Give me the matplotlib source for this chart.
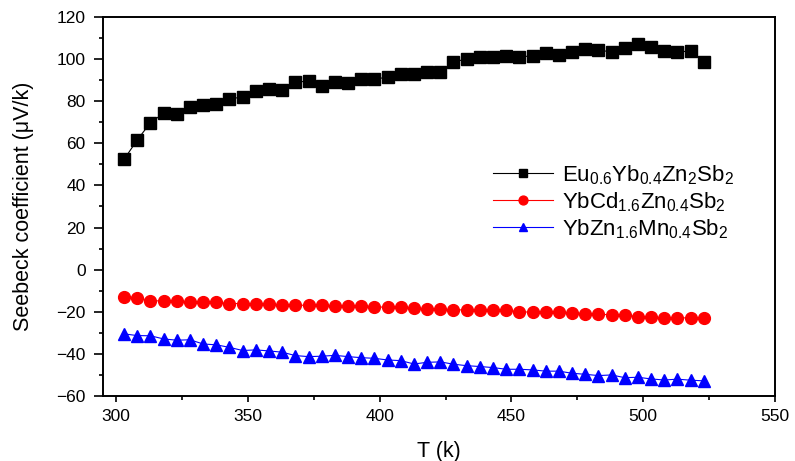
import numpy as np
import matplotlib
matplotlib.use('Agg')
import matplotlib.pyplot as plt
from matplotlib.ticker import MultipleLocator

plt.rcParams.update({
    'font.family': ['Liberation Sans', 'DejaVu Sans'],
    'mathtext.fontset': 'custom',
    'mathtext.rm': 'Liberation Sans',
    'mathtext.it': 'Liberation Sans',
})

# Temperature (K), 303 -> 523 in 5 K steps
temperature = list(range(303, 524, 5))

seebeck_eu_yb = [
    52.4, 61.6, 69.8, 74.3, 73.9, 77.4, 78.2, 78.7, 81.1, 82.0,
    84.7, 85.6, 85.3, 89.1, 89.5, 87.1, 89.3, 88.5, 90.4, 90.4,
    91.5, 93.1, 92.8, 93.8, 93.7, 98.5, 100.2, 100.9, 101.2, 101.4,
    101.0, 101.6, 102.7, 101.8, 103.4, 104.6, 104.3, 103.4, 105.4, 107.3,
    105.9, 104.0, 103.2, 104.0, 98.6,
]
seebeck_yb_cd = [
    -12.8, -13.3, -14.7, -14.9, -15.0, -15.5, -15.5, -15.5, -16.1, -16.1,
    -16.1, -16.4, -16.8, -16.9, -16.9, -16.9, -17.2, -17.4, -17.2, -17.6,
    -17.9, -17.9, -18.1, -18.7, -18.9, -19.1, -19.1, -19.2, -19.2, -19.1,
    -20.1, -20.1, -20.2, -20.2, -20.5, -20.9, -21.2, -21.4, -21.5, -22.3,
    -22.3, -23.1, -22.9, -22.9, -23.1,
]
seebeck_yb_mn = [
    -30.5, -31.3, -31.4, -32.9, -33.5, -33.3, -35.3, -35.7, -36.9, -38.4,
    -38.1, -38.6, -39.2, -40.8, -41.3, -41.1, -40.7, -41.3, -41.8, -42.1,
    -42.9, -43.2, -44.8, -44.0, -43.8, -44.9, -45.6, -46.0, -46.5, -47.3,
    -47.3, -47.6, -48.2, -48.2, -49.2, -49.7, -50.3, -50.0, -51.3, -51.1,
    -51.9, -52.4, -52.0, -52.5, -52.8,
]

labels = [
    r'$\mathregular{Eu_{0.6}Yb_{0.4}Zn_{2}Sb_{2}}$',
    r'$\mathregular{YbCd_{1.6}Zn_{0.4}Sb_{2}}$',
    r'$\mathregular{YbZn_{1.6}Mn_{0.4}Sb_{2}}$',
]

W, H = 795, 461
fig = plt.figure(figsize=(W / 100, H / 100), dpi=100)
ax = fig.add_axes([103 / W, 1 - 396 / H, 672 / W, 379 / H])

ax.plot(temperature, seebeck_eu_yb, '-s', color='black', lw=0.8,
        ms=8.5, label=labels[0])
ax.plot(temperature, seebeck_yb_cd, '-o', color='red', lw=0.8,
        ms=8.5, label=labels[1])
ax.plot(temperature, seebeck_yb_mn, '-^', color='blue', lw=0.8,
        ms=8.5, label=labels[2])

ax.set_xlim(295, 550)
ax.set_ylim(-60, 120)
ax.xaxis.set_major_locator(MultipleLocator(50))
ax.xaxis.set_minor_locator(MultipleLocator(25))
ax.yaxis.set_major_locator(MultipleLocator(20))
ax.yaxis.set_minor_locator(MultipleLocator(10))
ax.tick_params(axis='x', which='major', direction='out', length=4.5,
               width=1.2, labelsize=12.5, pad=5)
ax.tick_params(axis='y', which='major', direction='out', length=6.5,
               width=1.2, labelsize=12.5, pad=6)
ax.tick_params(axis='x', which='minor', direction='out', length=3, width=1.2)
ax.tick_params(axis='y', which='minor', direction='out', length=3, width=1.2)
for side in ax.spines.values():
    side.set_linewidth(1.4)

ax.set_xlabel('T (k)', fontsize=15.5, labelpad=12)
ax.set_ylabel('Seebeck coefficient (\u03bcV/k)', fontsize=15.5, labelpad=16)

ax.legend(loc='center left', bbox_to_anchor=(493 / W, 1 - 202 / H),
          bbox_transform=fig.transFigure, frameon=False,
          fontsize=16, markerscale=0.75, handlelength=2.7,
          handletextpad=0.4, labelspacing=0.15, borderpad=0,
          borderaxespad=0)

fig.savefig('out.png', dpi=100)
